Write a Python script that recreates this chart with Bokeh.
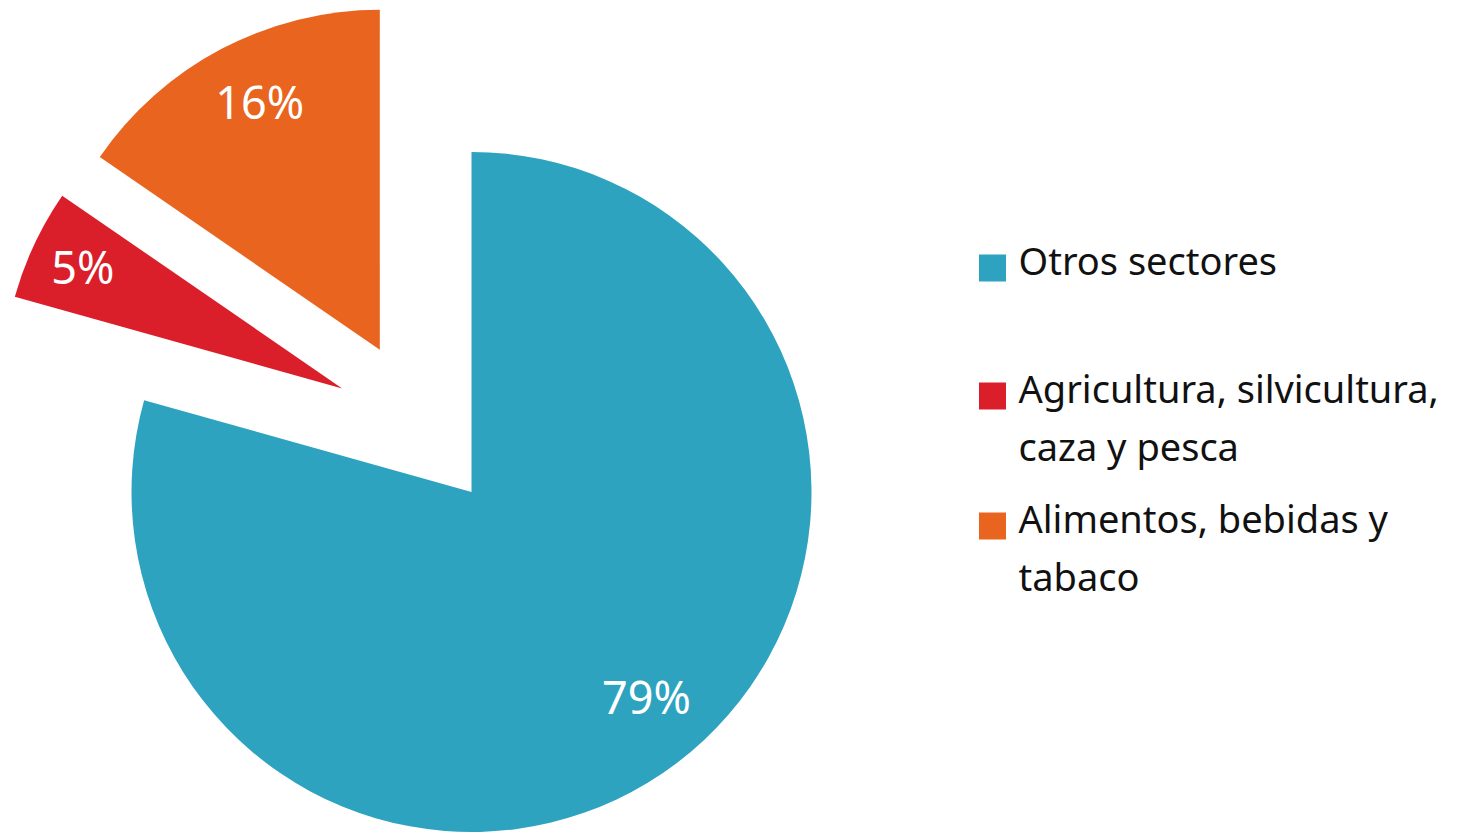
import numpy as np
from bokeh.plotting import figure
from bokeh.models import ColumnDataSource
from bokeh.core.properties import value
from bokeh.embed import file_html
from bokeh.resources import INLINE

# ---- data ----
categories = ["Otros sectores",
              "Agricultura, silvicultura,\ncaza y pesca",
              "Alimentos, bebidas y\ntabaco"]
shares = [79.35, 5.25, 15.4]
pct_labels = ["79%", "5%", "16%"]
colors = ["#2EA3C0", "#DA1F2A", "#E9651F"]

# ---- layout / style (page pixels) ----
W, H = 1464, 833
PAGE_H = 833
CX, CY_SCREEN = 471, 491.5
R = 340
explode_dx = [0.0, -129.3, -91.7]
explode_dy = [0.0, 103.5, 142.2]
label_r = [0.796, 0.84, 0.806]
label_ang_shift = [3.1, 0.4, -1.7]
FONT = "Noto Sans"
PCT_SIZE = 45
LEG_SIZE = 38
BASE_FIX = 0.4   # empirical baseline correction (em)

def Y(sy):
    return PAGE_H - sy

p = figure(width=W, height=H, x_range=(0, W), y_range=(PAGE_H - H, PAGE_H),
           output_backend="svg", toolbar_location=None, min_border=0)
p.axis.visible = False
p.grid.visible = False
p.outline_line_color = None
p.background_fill_color = "white"
p.border_fill_color = "white"

frac = np.array(shares) / np.sum(shares)
cum_after = np.cumsum(frac)
cum_before = cum_after - frac
start_deg = 90 - 360 * cum_after
end_deg = 90 - 360 * cum_before

cx = CX + np.array(explode_dx)
cy = Y(CY_SCREEN) + np.array(explode_dy)

src = ColumnDataSource(dict(x=cx, y=cy, start=np.radians(start_deg), end=np.radians(end_deg), color=colors))
p.wedge(x="x", y="y", radius=R, start_angle="start", end_angle="end", direction="anticlock",
        fill_color="color", line_color=None, source=src)

mid = np.radians((start_deg + end_deg) / 2 + np.array(label_ang_shift))
lx = cx + np.array(label_r) * R * np.cos(mid)
ly = cy + np.array(label_r) * R * np.sin(mid) + 2.5
p.text(x=lx, y=ly, text=pct_labels, text_color="white", text_font=value(FONT),
       text_font_size=f"{PCT_SIZE}px", text_align="center", text_baseline="alphabetic")

# ---- legend ----
leg_baselines = [275, 403, 533]
line_step = 57.5
sq_x, sq_size, txt_x = 992, 27, 1018
for cat, col, b in zip(categories, colors, leg_baselines):
    p.rect(x=[sq_x], y=[Y(b - 7.5)], width=sq_size, height=sq_size, fill_color=col, line_color=None)
    lines = cat.split("\n")
    p.text(x=[txt_x] * len(lines),
           y=[Y(b + i * line_step) + BASE_FIX * LEG_SIZE for i in range(len(lines))], text=lines,
           text_color="#111111", text_font=value(FONT), text_font_size=f"{LEG_SIZE}px",
           text_align="left", text_baseline="alphabetic")

open("out.html", "w").write(file_html(p, INLINE))
